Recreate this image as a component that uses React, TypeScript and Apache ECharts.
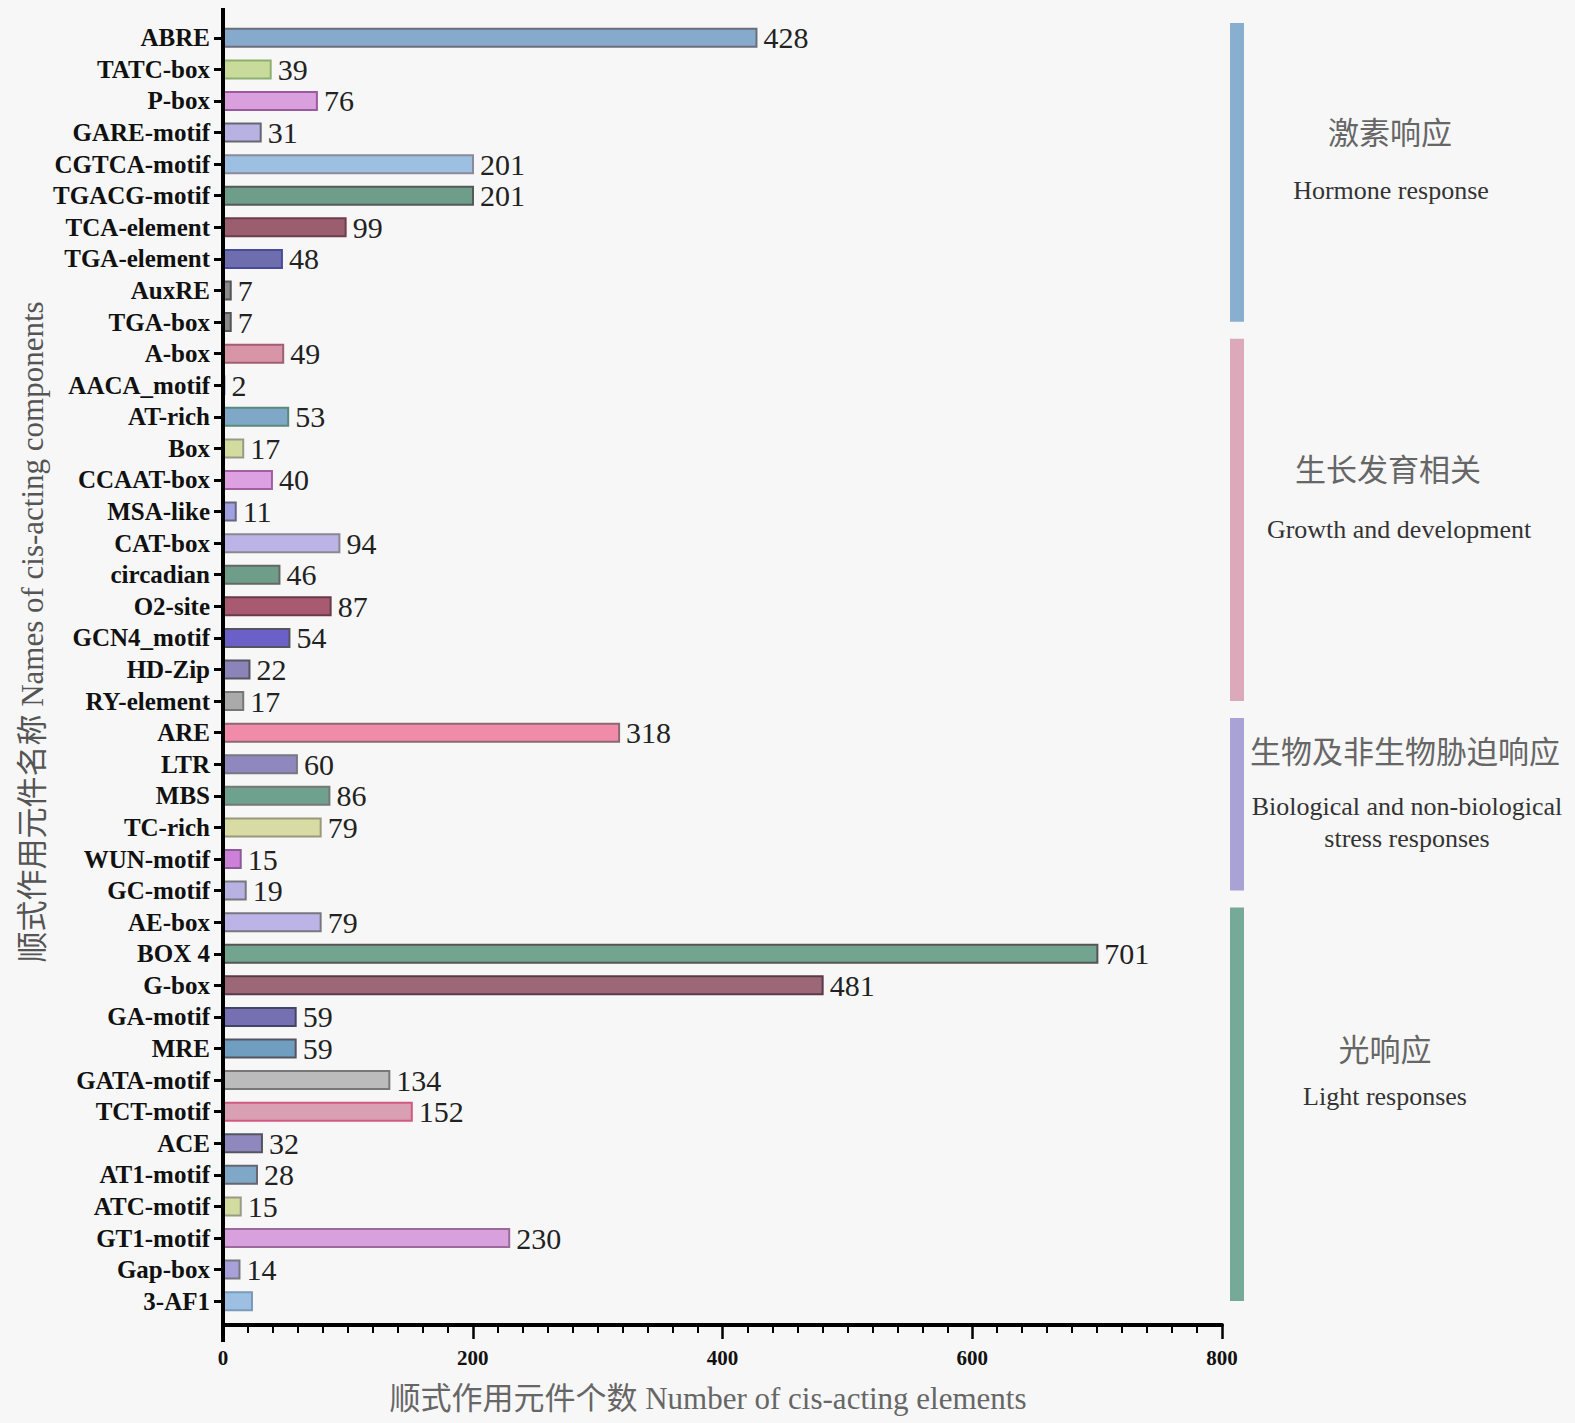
import React, { useEffect, useRef } from "react";
import * as echarts from "echarts";

const categories = [
  "ABRE", "TATC-box", "P-box", "GARE-motif", "CGTCA-motif", "TGACG-motif", "TCA-element", "TGA-element", "AuxRE", "TGA-box",
  "A-box", "AACA_motif", "AT-rich", "Box", "CCAAT-box", "MSA-like", "CAT-box", "circadian", "O2-site", "GCN4_motif", "HD-Zip", "RY-element",
  "ARE", "LTR", "MBS", "TC-rich", "WUN-motif", "GC-motif",
  "AE-box", "BOX 4", "G-box", "GA-motif", "MRE", "GATA-motif", "TCT-motif", "ACE", "AT1-motif", "ATC-motif", "GT1-motif", "Gap-box", "3-AF1",
];

const values = [
  428, 39, 76, 31, 201, 201, 99, 48, 7, 7,
  49, 2, 53, 17, 40, 11, 94, 46, 87, 54, 22, 17,
  318, 60, 86, 79, 15, 19,
  79, 701, 481, 59, 59, 134, 152, 32, 28, 15, 230, 14, 24,
];

// categories whose value label is not printed in the reference
const hiddenLabels = ["3-AF1"];

const barFill = [
  "#86AACB", "#C9DB9A", "#D9A0DD", "#B8B2E2", "#9DC0E2", "#6E9E8A", "#9B5E6E", "#6E6EAE", "#8A8A8A", "#8A8A8A",
  "#D895A8", "#9DC0E2", "#7FA8C8", "#D2DC9E", "#DDA0E0", "#A0A0E0", "#BCB4E6", "#6E9E8A", "#A85A70", "#6A60C8", "#8A84B8", "#AAAAAA",
  "#F08CAA", "#8E88BE", "#6FA28E", "#D8DCA4", "#CC80D8", "#B8B2E2",
  "#BCB4E6", "#73A490", "#9C6878", "#7470B2", "#6F9EC0", "#BBBBBB", "#D8A0B2", "#8E88BE", "#7FA8C8", "#D2DC9E", "#D8A0DD", "#A8A0D8", "#9DC0E2",
];

const barEdge = [
  "#6A6E7A", "#8DB070", "#9A5AA0", "#666670", "#8A8A98", "#555A58", "#6D3D4D", "#4A4A9A", "#555555", "#555555",
  "#A06070", "#7A9ABA", "#5A8A7A", "#999988", "#A060A0", "#666680", "#888890", "#666666", "#6A3A4A", "#555560", "#555560", "#777777",
  "#8A6A70", "#777780", "#777777", "#99997A", "#8A5A9A", "#777780",
  "#777780", "#555555", "#5A3A4A", "#444466", "#555560", "#777777", "#D05A80", "#555560", "#666670", "#999988", "#9A6A9A", "#777780", "#7A9ABA",
];

// groups: [first category index, last category index]
const groupRanges = [
  [0, 9],
  [10, 21],
  [22, 27],
  [28, 40],
];
const groupColors = ["#88AFD0", "#DBA9B9", "#A9A2D4", "#77A999"];
const groupZh = ["激素响应", "生长发育相关", "生物及非生物胁迫响应", "光响应"];
const groupEn = [
  ["Hormone response"],
  ["Growth and development"],
  ["Biological and non-biological", "stress responses"],
  ["Light responses"],
];
const groupZhPos = [
  [1390, 133],
  [1388, 470],
  [1405, 752],
  [1385, 1050],
];
const groupEnPos = [
  [1391, 190],
  [1399, 529],
  [1407, 806],
  [1385, 1096],
];

const xMax = 800;
const xInterval = 200;
const xAxisTitle = "顺式作用元件个数 Number of cis-acting elements";
const yAxisTitle = "顺式作用元件名称 Names of cis-acting components";

const SERIF = "'Liberation Serif', 'Times New Roman', 'Noto Sans CJK SC', serif";

export default function App() {
  const ref = useRef<HTMLDivElement>(null);

  useEffect(() => {
    document.body.style.margin = "0";
    if (!ref.current) return;
    const chart = echarts.init(ref.current, undefined, { renderer: "svg" });

    const barData = values.map((v, i) => ({
      value: v,
      itemStyle: { color: barFill[i], borderColor: barEdge[i], borderWidth: 2 },
      label: hiddenLabels.includes(categories[i]) ? { show: false } : undefined,
    }));

    const groupData = groupRanges.map((r, i) => [xMax, r[0], r[1], i]);

    const graphics: any[] = [];
    // full-height y axis line
    graphics.push({
      type: "line",
      shape: { x1: 223, y1: 8, x2: 223, y2: 1342 },
      style: { stroke: "#000", lineWidth: 4 },
      z: 100,
    });
    graphics.push({
      type: "text",
      x: 32,
      y: 632,
      rotation: Math.PI / 2,
      style: {
        text: yAxisTitle,
        font: `31px ${SERIF}`,
        fill: "#555",
        align: "center",
        verticalAlign: "middle",
      },
    });
    graphics.push({
      type: "text",
      x: 708,
      y: 1398,
      style: {
        text: xAxisTitle,
        font: `31px ${SERIF}`,
        fill: "#666",
        align: "center",
        verticalAlign: "middle",
      },
    });
    groupZh.forEach((t, i) => {
      graphics.push({
        type: "text",
        x: groupZhPos[i][0],
        y: groupZhPos[i][1],
        style: { text: t, font: `31px ${SERIF}`, fill: "#666", align: "center", verticalAlign: "middle" },
      });
      groupEn[i].forEach((line, j) => {
        graphics.push({
          type: "text",
          x: groupEnPos[i][0],
          y: groupEnPos[i][1] + j * 32,
          style: { text: line, font: `26px ${SERIF}`, fill: "#333", align: "center", verticalAlign: "middle" },
        });
      });
    });

    chart.setOption({
      animation: false,
      backgroundColor: "#F7F7F7",
      grid: { left: 223, right: 353, top: 22, height: 1295, containLabel: false },
      xAxis: {
        type: "value",
        min: 0,
        max: xMax,
        interval: xInterval,
        offset: 8,
        axisLine: { show: true, lineStyle: { color: "#000", width: 4 } },
        axisTick: { show: true, length: 14, lineStyle: { color: "#000", width: 2.5 } },
        minorTick: { show: true, splitNumber: 10, length: 8, lineStyle: { color: "#000", width: 2 } },
        axisLabel: { fontFamily: SERIF, fontSize: 21, fontWeight: "bold", color: "#111", margin: 22 },
        splitLine: { show: false },
        minorSplitLine: { show: false },
      },
      yAxis: {
        type: "category",
        inverse: true,
        data: categories,
        axisLine: { show: false },
        axisTick: { show: true, alignWithLabel: true, length: 9, lineStyle: { color: "#000", width: 3 } },
        axisLabel: {
          interval: 0,
          fontFamily: SERIF,
          fontSize: 25,
          lineHeight: 26,
          fontWeight: "bold",
          color: "#111",
          margin: 13,
        },
        splitLine: { show: false },
      },
      graphic: graphics,
      series: [
        {
          type: "bar",
          data: barData,
          barWidth: 20,
          label: {
            show: true,
            position: "right",
            distance: 6,
            fontFamily: SERIF,
            fontSize: 30,
            lineHeight: 28,
            color: "#222",
          },
          z: 3,
        },
        {
          type: "custom",
          clip: false,
          encode: { x: 0, y: 1 },
          data: groupData,
          renderItem: (params: any, api: any) => {
            const s = api.value(1);
            const e = api.value(2);
            const ci = api.value(3);
            const p1 = api.coord([api.value(0), s]);
            const p2 = api.coord([api.value(0), e]);
            const band = api.size([0, 1])[1];
            const y1 = p1[1] - band / 2 + 1;
            const y2 = p2[1] + band / 2 - 16;
            return {
              type: "rect",
              shape: { x: p1[0] + 8, y: y1, width: 14, height: y2 - y1 },
              style: { fill: groupColors[ci], stroke: null },
            };
          },
          z: 2,
        },
      ],
    });

    return () => chart.dispose();
  }, []);

  return <div ref={ref} style={{ width: 1575, height: 1423 }} />;
}
